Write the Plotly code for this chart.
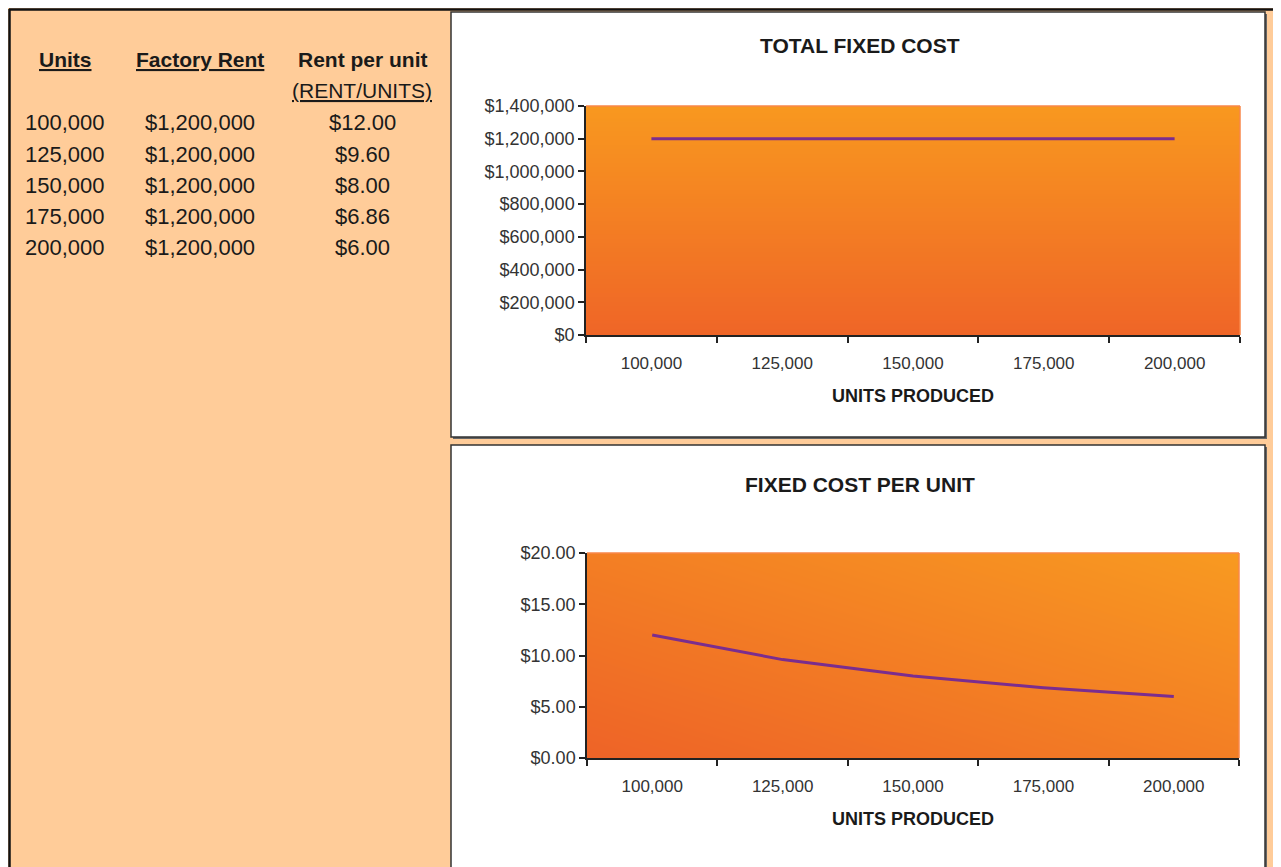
import plotly.graph_objects as go

# ---- data ----
units = [100000, 125000, 150000, 175000, 200000]
factory_rent = [1200000, 1200000, 1200000, 1200000, 1200000]
rent_per_unit = [12.00, 9.60, 8.00, 6.86, 6.00]
unit_labels = ["100,000", "125,000", "150,000", "175,000", "200,000"]
rent_labels = ["$1,200,000"] * 5
per_unit_labels = ["$12.00", "$9.60", "$8.00", "$6.86", "$6.00"]

W, H = 1281, 867
OFF = 8  # page body offset compensation
def px(x):
    return (x - OFF) / W
def py(y):
    return 1 - (y - OFF) / H

PEACH = "#FFCC99"
LINE = "#7B2D8E"
YTICK_FONT = dict(family="Liberation Sans, Arial", size=18, color="#333333")
XTICK_FONT = dict(family="Liberation Sans, Arial", size=17, color="#333333")

x_lo, x_hi = 87500, 212500

fig = go.Figure()

# gradient backgrounds (decorative)
fig.add_trace(go.Heatmap(
    x=[x_lo, x_hi], y=[0, 1400000], z=[[0, 0], [1, 1]],
    zsmooth="best", showscale=False, hoverinfo="skip",
    colorscale=[[0, "#EF6527"], [1, "#F8981F"]], zmin=0, zmax=1,
    xaxis="x", yaxis="y"))
fig.add_trace(go.Heatmap(
    x=[x_lo, x_hi], y=[0, 20], z=[[0, 0.5], [0.5, 1]],
    zsmooth="best", showscale=False, hoverinfo="skip",
    colorscale=[[0, "#EE6327"], [1, "#F89A21"]], zmin=0, zmax=1,
    xaxis="x2", yaxis="y2"))

# data lines
fig.add_trace(go.Scatter(x=units, y=factory_rent, mode="lines",
                         line=dict(color=LINE, width=3), xaxis="x", yaxis="y",
                         showlegend=False, hoverinfo="skip"))
fig.add_trace(go.Scatter(x=units, y=rent_per_unit, mode="lines",
                         line=dict(color=LINE, width=3), xaxis="x2", yaxis="y2",
                         showlegend=False, hoverinfo="skip"))

def xaxis_cfg(dom):
    return dict(domain=dom, range=[x_lo, x_hi], tickmode="array", tickvals=units,
                ticktext=unit_labels, ticks="", showgrid=False, zeroline=False,
                showline=True, linecolor="#222222", linewidth=1.5,
                tickfont=XTICK_FONT, fixedrange=True, automargin=False,
                ticklabelstandoff=12,
                minor=dict(tickmode="linear", tick0=x_lo, dtick=25000, ticks="outside",
                           ticklen=6, tickcolor="#222222", tickwidth=1.5, showgrid=False),
                title=dict(text="<b>UNITS PRODUCED</b>",
                           font=dict(family="Liberation Sans, Arial", size=18, color="#1a1a1a"),
                           standoff=17))

def yaxis_cfg(dom, rng, dtick, fmt):
    return dict(domain=dom, range=rng, dtick=dtick, tick0=0, tickprefix="$", tickformat=fmt,
                ticks="outside", ticklen=6, tickcolor="#222222", tickwidth=1.5,
                showgrid=False, zeroline=False, showline=True, linecolor="#222222",
                linewidth=1.5, tickfont=YTICK_FONT, fixedrange=True, automargin=False)

fig.update_layout(
    width=W, height=H, autosize=False,
    margin=dict(l=0, r=0, t=0, b=0, pad=0),
    paper_bgcolor=PEACH, plot_bgcolor="rgba(0,0,0,0)",
    showlegend=False,
    xaxis=dict(xaxis_cfg([px(586), px(1240)]), anchor="y"),
    yaxis=dict(yaxis_cfg([py(335), py(106)], [0, 1400000], 200000, ","), anchor="x"),
    xaxis2=dict(xaxis_cfg([px(587), px(1239)]), anchor="y2"),
    yaxis2=dict(yaxis_cfg([py(758), py(553)], [0, 20], 5, ",.2f"), anchor="x2"),
)

shapes = []
# outer frame (kept just inside the drawable area)
shapes.append(dict(type="line", xref="paper", yref="paper", x0=px(9), x1=px(1276), y0=py(9.5), y1=py(9.5),
                   line=dict(color="#111111", width=2.5), layer="below"))
shapes.append(dict(type="line", xref="paper", yref="paper", x0=px(9.5), x1=px(9.5), y0=py(9), y1=py(880),
                   line=dict(color="#111111", width=2.5), layer="below"))
shapes.append(dict(type="line", xref="paper", yref="paper", x0=px(1275), x1=px(1275), y0=py(9), y1=py(880),
                   line=dict(color="#555555", width=2), layer="below"))
# chart panels (shadow + white box)
for (x0, y0, x1, y1) in [(451, 12, 1265, 437), (451, 445, 1265, 880)]:
    shapes.append(dict(type="rect", xref="paper", yref="paper",
                       x0=px(x0 + 2), x1=px(x1 + 2), y0=py(y1 + 2), y1=py(y0 + 2),
                       fillcolor="#666666", line=dict(width=0), layer="below"))
    shapes.append(dict(type="rect", xref="paper", yref="paper",
                       x0=px(x0), x1=px(x1), y0=py(y1), y1=py(y0),
                       fillcolor="white", line=dict(color="#333333", width=1.5), layer="below"))
# light orange plot-area edges (top and right)
for xa, ya in [("x", "y"), ("x2", "y2")]:
    shapes.append(dict(type="line", xref=f"{xa} domain", yref=f"{ya} domain", x0=0, x1=1, y0=1, y1=1,
                       line=dict(color="#F9874A", width=1.5)))
    shapes.append(dict(type="line", xref=f"{xa} domain", yref=f"{ya} domain", x0=1, x1=1, y0=0, y1=1,
                       line=dict(color="#F9874A", width=1.5)))
fig.update_layout(shapes=shapes)

ann = []
TFONT = dict(family="Liberation Sans, Arial", size=22, color="#1a1a1a")
HFONT = dict(family="Liberation Sans, Arial", size=21, color="#1a1a1a")
def add(text, x, y, font):
    ann.append(dict(text=text, x=px(x), y=py(y), xref="paper", yref="paper",
                    xanchor="center", yanchor="middle", showarrow=False, font=font))

TITLE_FONT = dict(family="Liberation Sans, Arial", size=21, color="#1a1a1a")
add("<b>TOTAL FIXED COST</b>", 860, 45, TITLE_FONT)
add("<b>FIXED COST PER UNIT</b>", 860, 484, TITLE_FONT)

# table
col_x = [65, 200, 363]
headers = ["<b><u>Units</u></b>", "<b><u>Factory Rent</u></b>", "<b>Rent per unit</b>"]
for cx, h in zip(col_x, headers):
    add(h, cx, 60, HFONT)
add("<u>(RENT/UNITS)</u>", 362, 91, HFONT)
row_y = [123, 154, 185, 216, 247]
for i, ry in enumerate(row_y):
    for cx, lbls in zip(col_x, [unit_labels, rent_labels, per_unit_labels]):
        add(lbls[i], cx, ry, TFONT)
fig.update_layout(annotations=ann)

fig.write_html("out.html")
